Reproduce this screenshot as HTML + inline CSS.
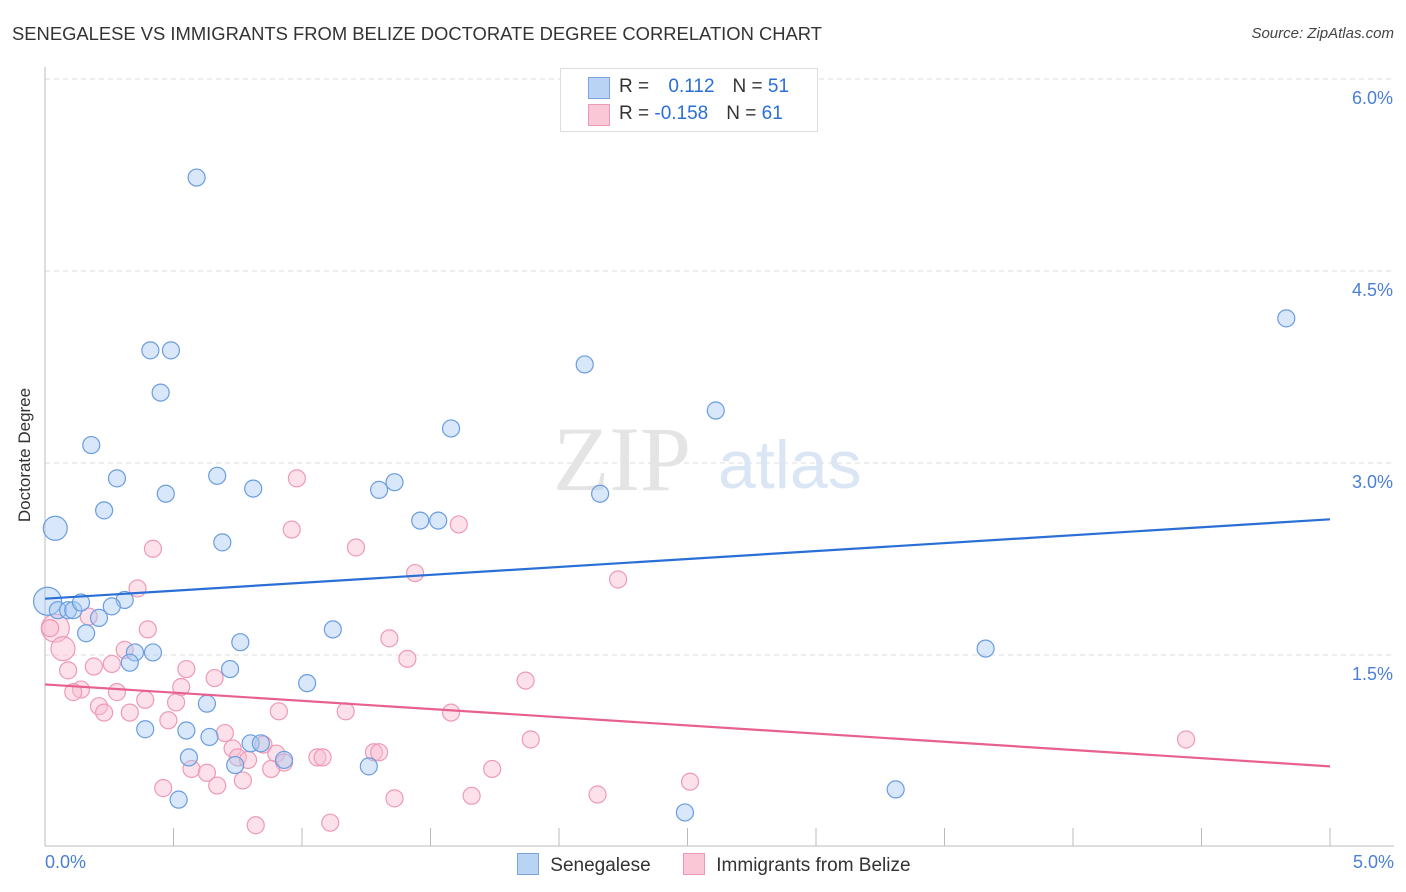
<!DOCTYPE html>
<html><head><meta charset="utf-8"><style>
body{margin:0;background:#fff;font-family:"Liberation Sans",sans-serif;}
#wrap{position:relative;width:1406px;height:892px;overflow:hidden;}
.t{position:absolute;white-space:nowrap;}
</style></head><body>
<div id="wrap">
<div class="t" style="left:12px;top:23px;font-size:18.4px;color:#333;">SENEGALESE VS IMMIGRANTS FROM BELIZE DOCTORATE DEGREE CORRELATION CHART</div>
<div class="t" style="right:12px;top:25px;font-size:15px;color:#444;font-style:italic;">Source: ZipAtlas.com</div>
<svg id="svg" width="1406" height="892" style="position:absolute;left:0;top:0"></svg>
</div>
<script>
const xTicks=[0,0.5,1,1.5,2,2.5,3,3.5,4,4.5,5];
const yTicks=[1.5,3.0,4.5,6.0];
const yTickLabels=["1.5%","3.0%","4.5%","6.0%"];
const blueX=[0.59,0.41,0.49,0.45,0.18,0.28,0.47,0.23,0.67,0.81,0.69,0.04,0.01,0.05,0.09,0.11,0.14,0.31,0.26,0.21,0.16,0.76,0.35,0.42,0.33,0.72,1.02,0.63,0.39,0.55,0.64,0.80,0.84,0.56,0.74,0.93,1.26,0.52,1.12,1.30,1.36,1.46,1.53,1.58,2.10,2.16,2.61,3.66,4.83,3.31,2.49];
const blueY=[5.23,3.88,3.88,3.55,3.14,2.88,2.76,2.63,2.90,2.80,2.38,2.49,1.92,1.85,1.85,1.85,1.91,1.93,1.88,1.79,1.67,1.60,1.52,1.52,1.44,1.39,1.28,1.12,0.92,0.91,0.86,0.81,0.81,0.70,0.64,0.68,0.63,0.37,1.70,2.79,2.85,2.55,2.55,3.27,3.77,2.76,3.41,1.55,4.13,0.45,0.27];
const blueBig=[12,11];
const pinkX=[0.98,0.96,1.21,1.61,0.42,0.36,1.44,2.23,0.17,0.04,0.02,0.07,0.40,1.34,0.31,1.41,0.19,0.09,0.55,0.26,0.66,1.87,0.14,0.11,0.53,0.28,0.39,0.21,0.51,0.23,0.33,0.91,1.17,1.58,0.48,0.70,1.89,0.73,0.85,0.90,1.28,1.30,1.06,1.08,0.75,0.79,0.93,0.57,0.63,0.88,1.74,0.46,0.67,0.77,2.51,1.66,2.15,1.36,0.82,1.11,4.44];
const pinkY=[2.88,2.48,2.34,2.52,2.33,2.02,2.14,2.09,1.80,1.71,1.71,1.55,1.70,1.63,1.54,1.47,1.41,1.38,1.39,1.43,1.32,1.30,1.23,1.21,1.25,1.21,1.15,1.10,1.13,1.05,1.05,1.06,1.06,1.05,0.99,0.89,0.84,0.77,0.80,0.73,0.74,0.74,0.70,0.70,0.70,0.68,0.66,0.61,0.58,0.61,0.61,0.46,0.48,0.52,0.51,0.40,0.41,0.38,0.17,0.19,0.84];
const pinkBig=[9,11];
const blueTrend=[1.94,2.56];
const pinkTrend=[1.27,0.63];

const X=v=>45+v*257;
const Y=v=>847-v*128;
const svg=document.getElementById('svg');
const NS='http://www.w3.org/2000/svg';
function mk(tag,attrs,parent){const e=document.createElementNS(NS,tag);for(const k in attrs)e.setAttribute(k,attrs[k]);(parent||svg).appendChild(e);return e;}
yTicks.forEach((t,i)=>{
 const g=mk('line',{x1:45,x2:1394,y1:Y(t),y2:Y(t),stroke:'#ddd','stroke-dasharray':'5,4'});
 
 
 const tx=mk('text',{x:1393,y:Y(t)+25,'text-anchor':'end','font-size':18,fill:'#4a7fd4','font-family':'Liberation Sans'});
 tx.textContent=yTickLabels[i];
 
 
});
const ax=mk('line',{x1:45,x2:45,y1:67,y2:846,stroke:'#bbb'});


const bx=mk('line',{x1:45,x2:1394,y1:846,y2:846,stroke:'#bbb'});


xTicks.forEach(t=>{const l=mk('line',{x1:X(t),x2:X(t),y1:828,y2:846,stroke:'#bbb'});
 
 });
const wm=mk('text',{x:553,y:490,'font-size':92,fill:'#e4e4e4','font-family':'Liberation Serif'});wm.textContent='ZIP';


const wm2=mk('text',{x:718,y:488,'font-size':68,fill:'#dbe6f5','font-family':'Liberation Sans'});wm2.textContent='atlas';


function pts(xs,ys,big,fill,stroke,name){xs.forEach((x,i)=>{const r=big.includes(i)?(i===big[0]?14:12):8.5;
 const c=mk('circle',{cx:X(x),cy:Y(ys[i]),r:r,fill:fill,'fill-opacity':0.45,stroke:stroke,'stroke-width':1.2});
 
 });}
pts(pinkX,pinkY,pinkBig,'#f8bcd0','#ee9ab5','point-belize');
pts(blueX,blueY,blueBig,'#a9c9f2','#6a9de0','point-senegalese');
const tl1=mk('line',{x1:X(0),x2:X(5),y1:Y(blueTrend[0]),y2:Y(blueTrend[1]),stroke:'#2a6fd6','stroke-width':2.2});


const tl2=mk('line',{x1:X(0),x2:X(5),y1:Y(pinkTrend[0]),y2:Y(pinkTrend[1]),stroke:'#e8608f','stroke-width':2.2});


</script>
<div class="t" style="left:45px;top:852px;font-size:18px;color:#4a7fd4;">0.0%</div>
<div class="t" style="right:12px;top:852px;font-size:18px;color:#4a7fd4;">5.0%</div>
<div class="t" style="left:-42px;top:445px;font-size:17px;color:#333;transform:rotate(-90deg);">Doctorate Degree</div>
<div style="position:absolute;left:560px;top:68px;width:256px;height:62px;border:1px solid #ddd;background:#fff;font-size:19px;">
 <div style="position:absolute;left:27px;top:8px;width:20px;height:20px;background:#b9d3f5;border:1px solid #7aa6e0"></div>
 <div class="t" style="left:58px;top:7px;color:#333">R = <span style="color:#2a6fd6;margin-left:14px">0.112</span><span style="color:#333;margin-left:18px">N = </span><span style="color:#2a6fd6">51</span></div>
 <div style="position:absolute;left:27px;top:35px;width:20px;height:20px;background:#f9c7d6;border:1px solid #ee9ab5"></div>
 <div class="t" style="left:58px;top:34px;color:#333">R = <span style="color:#2a6fd6">-0.158</span><span style="color:#333;margin-left:18px">N = </span><span style="color:#2a6fd6">61</span></div>
</div>
<div style="position:absolute;left:517px;top:853px;font-size:19px;color:#333;">
 <div style="position:absolute;left:0;top:0;white-space:nowrap"><span style="display:inline-block;width:20px;height:20px;background:#b9d3f5;border:1px solid #7aa6e0;vertical-align:-4px"></span> <span style="margin-left:6px">Senegalese</span></div>
 <div style="position:absolute;left:166px;top:0;white-space:nowrap"><span style="display:inline-block;width:20px;height:20px;background:#f9c7d6;border:1px solid #ee9ab5;vertical-align:-4px"></span> <span style="margin-left:6px">Immigrants from Belize</span></div>
</div>
</body></html>
